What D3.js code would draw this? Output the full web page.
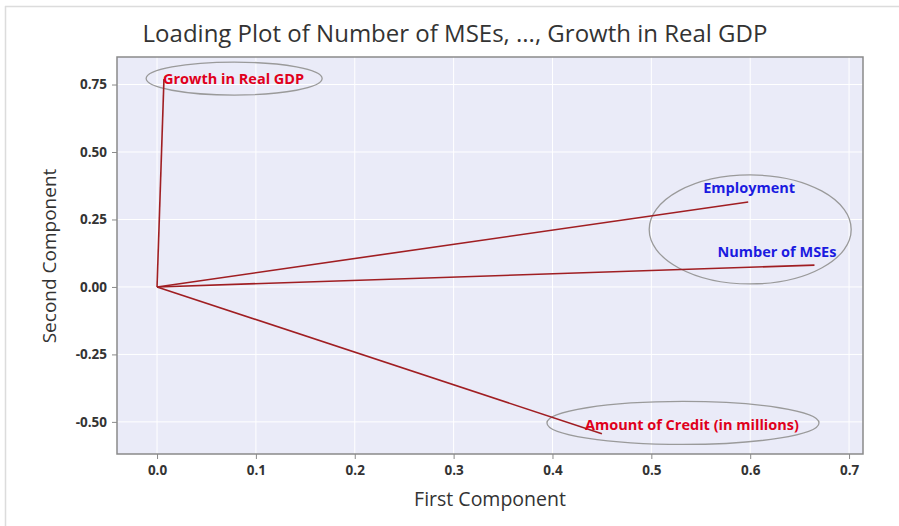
<!DOCTYPE html>
<html><head><meta charset="utf-8">
<script src="https://cdn.jsdelivr.net/npm/d3@7"></script>
<style>body{margin:0;background:#fff;}svg{display:block;font-family:"Open Sans","Noto Sans",sans-serif;}</style>
</head><body>
<svg id="c" width="899" height="526"></svg>
<script>
const variables = ["Number of MSEs", "Employment", "Amount of Credit (in millions)", "Growth in Real GDP"];
const firstComponent = [0.665, 0.598, 0.450, 0.007];
const secondComponent = [0.081, 0.315, -0.544, 0.770];
const labelGroup = ["blue", "blue", "red", "red"];
const xTicks = [0.0, 0.1, 0.2, 0.3, 0.4, 0.5, 0.6, 0.7];
const yTicks = [-0.50, -0.25, 0.00, 0.25, 0.50, 0.75];
const titleText = "Loading Plot of Number of MSEs, ..., Growth in Real GDP";
const xTitle = "First Component";
const yTitle = "Second Component";

const svg = d3.select("#c");
const L = 117, R = 863, T = 57, B = 454;
const x = d3.scaleLinear().domain([-0.0405, 0.7141]).range([L, R]);
const y = d3.scaleLinear().domain([-0.619, 0.852]).range([B, T]);

// outer screenshot frame lines
svg.append("line").attr("x1",5.5).attr("x2",5.5).attr("y1",6).attr("y2",526).attr("stroke","#dcdcdc").attr("stroke-width",1.5);
svg.append("line").attr("x1",5).attr("x2",899).attr("y1",6.5).attr("y2",6.5).attr("stroke","#dcdcdc").attr("stroke-width",1.5);

svg.append("rect").attr("x",L).attr("y",T).attr("width",R-L).attr("height",B-T).attr("fill","#EAEBF8");

// gridlines
svg.append("g").selectAll("line").data(xTicks).join("line")
  .attr("x1",d=>x(d)).attr("x2",d=>x(d)).attr("y1",T).attr("y2",B)
  .attr("stroke","#ffffff").attr("stroke-width",1);
svg.append("g").selectAll("line").data(yTicks).join("line")
  .attr("x1",L).attr("x2",R).attr("y1",d=>y(d)).attr("y2",d=>y(d))
  .attr("stroke","#ffffff").attr("stroke-width",1);

svg.append("rect").attr("x",L).attr("y",T).attr("width",R-L).attr("height",B-T)
  .attr("fill","none").attr("stroke","#8a8a8a").attr("stroke-width",1.5);

const fmtY = d => d3.format(".2f")(d).replace("\u2212", "-");
const xAxis = svg.append("g").attr("transform",`translate(0,${B})`)
  .call(d3.axisBottom(x).tickValues(xTicks).tickFormat(d3.format(".1f")).tickSize(5).tickPadding(6));
const yAxis = svg.append("g").attr("transform",`translate(${L},0)`)
  .call(d3.axisLeft(y).tickValues(yTicks).tickFormat(fmtY).tickSize(5).tickPadding(5));
[xAxis, yAxis].forEach(a => {
  a.select(".domain").remove();
  a.selectAll(".tick line").attr("stroke","#8a8a8a");
  a.selectAll(".tick text").attr("fill","#333").attr("font-size",13.5).attr("font-weight","bold")
    .attr("font-family","'Open Sans','Noto Sans',sans-serif");
});

// ellipses (annotations)
const ell = [
  {cx:0.078, cy:0.772, rx:88, ry:16.5},
  {cx:0.6, cy:0.213, rx:101, ry:54.5},
  {cx:0.532, cy:-0.504, rx:136, ry:21.5}
];
svg.append("g").selectAll("ellipse").data(ell).join("ellipse")
  .attr("cx",d=>x(d.cx)).attr("cy",d=>y(d.cy)).attr("rx",d=>d.rx).attr("ry",d=>d.ry)
  .attr("fill","none").attr("stroke","#9a9a9a").attr("stroke-width",1.3);

// loading vectors
svg.append("g").selectAll("line").data(variables).join("line")
  .attr("x1",x(0)).attr("y1",y(0))
  .attr("x2",(d,i)=>x(firstComponent[i])).attr("y2",(d,i)=>y(secondComponent[i]))
  .attr("stroke","#A01E22").attr("stroke-width",1.6);

// labels
const labelOffsets = [[-97,-8],[-45,-9],[-17,-4],[-1,5]];
svg.append("g").selectAll("text").data(variables).join("text")
  .attr("x",(d,i)=>x(firstComponent[i]) + labelOffsets[i][0])
  .attr("y",(d,i)=>y(secondComponent[i]) + labelOffsets[i][1])
  .attr("font-size",14.5).attr("font-weight","bold")
  .attr("fill",(d,i)=>labelGroup[i]==="blue" ? "#1B1BE0" : "#E0001B")
  .text(d=>d);

svg.append("text").attr("x",455).attr("y",42).attr("text-anchor","middle")
  .attr("font-size",24).attr("fill","#333").text(titleText);
svg.append("text").attr("x",490).attr("y",506).attr("text-anchor","middle")
  .attr("font-size",19.5).attr("fill","#333").text(xTitle);
svg.append("text").attr("transform","translate(56,256) rotate(-90)").attr("text-anchor","middle")
  .attr("font-size",19).attr("fill","#333").text(yTitle);
</script>
</body></html>
